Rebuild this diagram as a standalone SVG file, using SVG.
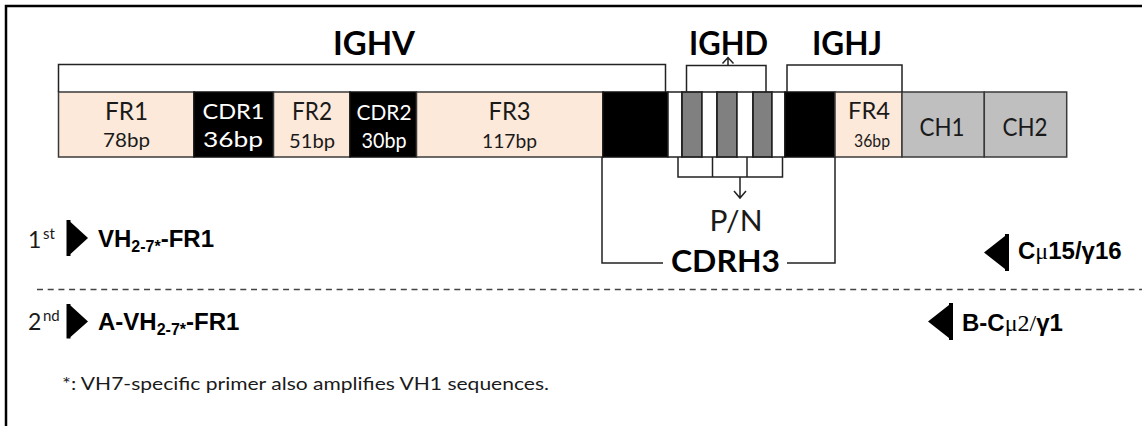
<svg xmlns="http://www.w3.org/2000/svg" width="1142" height="426" viewBox="0 0 1142 426">
<style>
.fr{fill:#FDE9D9;stroke:#3a3a3a;stroke-width:1.5}
.cdr{fill:#000;stroke:#111;stroke-width:1.5}
.wh{fill:#fff;stroke:#222;stroke-width:1.5}
.gr{fill:#808080;stroke:#222;stroke-width:1.8}
.ch{fill:#BFBFBF;stroke:#3a3a3a;stroke-width:1.5}
.ln{fill:none;stroke:#222;stroke-width:1.5}
.lbl{font-family:Lato,"Noto Sans",sans-serif;text-anchor:middle;fill:#1a1a1a}
.wl{font-family:Lato,"Noto Sans",sans-serif;text-anchor:middle;fill:#fff}
.big{font-family:Lato,"Noto Sans",sans-serif;font-weight:bold;text-anchor:middle;fill:#000}
.pr{font-family:"Liberation Sans",Arial,sans-serif;font-weight:bold;fill:#000}
.ord{font-family:Lato,"Noto Sans",sans-serif;fill:#1a1a1a}
.sym{font-family:"Liberation Serif","Times New Roman",serif}
.tri{fill:#000}
</style>
<rect x="0" y="0" width="1142" height="426" fill="#fff"/>
<path d="M6,426 V6 H1142" fill="none" stroke="#000" stroke-width="2.5"/>

<g id="headers">
<text class="big" x="374" y="55" font-size="33" textLength="82" lengthAdjust="spacingAndGlyphs">IGHV</text>
<text class="big" x="728.5" y="55" font-size="33" textLength="79" lengthAdjust="spacingAndGlyphs">IGHD</text>
<text class="big" x="847" y="55" font-size="33" textLength="70" lengthAdjust="spacingAndGlyphs">IGHJ</text>
</g>

<g id="FR1"><rect class="fr" x="58.5" y="92" width="135.5" height="65"/>
<text class="lbl" x="126.5" y="120" font-size="25" textLength="43" lengthAdjust="spacingAndGlyphs">FR1</text>
<text class="lbl" x="126.5" y="147" font-size="19" textLength="47" lengthAdjust="spacingAndGlyphs">78bp</text></g>
<g id="CDR1"><rect class="cdr" x="194" y="92" width="79.5" height="65"/>
<text class="wl" x="233.5" y="119" font-size="22" textLength="62" lengthAdjust="spacingAndGlyphs">CDR1</text>
<text class="wl" x="233" y="147" font-size="22" textLength="60" lengthAdjust="spacingAndGlyphs">36bp</text></g>
<g id="FR2"><rect class="fr" x="273.5" y="92" width="76.5" height="65"/>
<text class="lbl" x="312" y="120" font-size="25" textLength="40" lengthAdjust="spacingAndGlyphs">FR2</text>
<text class="lbl" x="312" y="148" font-size="19" textLength="46" lengthAdjust="spacingAndGlyphs">51bp</text></g>
<g id="CDR2"><rect class="cdr" x="350" y="92" width="66.5" height="65"/>
<text class="wl" x="384" y="120" font-size="22" textLength="55" lengthAdjust="spacingAndGlyphs">CDR2</text>
<text class="wl" x="384" y="148" font-size="21" textLength="45" lengthAdjust="spacingAndGlyphs">30bp</text></g>
<g id="FR3"><rect class="fr" x="416.5" y="92" width="186.5" height="65"/>
<text class="lbl" x="509.5" y="120" font-size="25" textLength="42" lengthAdjust="spacingAndGlyphs">FR3</text>
<text class="lbl" x="509.5" y="148" font-size="19" textLength="55" lengthAdjust="spacingAndGlyphs">117bp</text></g>
<g id="V-end"><rect class="cdr" x="603" y="92" width="65" height="65"/></g>
<g id="N1"><rect class="wh" x="668" y="92" width="14" height="65"/></g>
<g id="D1"><rect class="gr" x="682" y="92" width="20" height="65"/></g>
<g id="N2"><rect class="wh" x="702" y="92" width="15" height="65"/></g>
<g id="D2"><rect class="gr" x="717" y="92" width="20" height="65"/></g>
<g id="N3"><rect class="wh" x="737" y="92" width="16" height="65"/></g>
<g id="D3"><rect class="gr" x="753" y="92" width="19" height="65"/></g>
<g id="N4"><rect class="wh" x="772" y="92" width="13" height="65"/></g>
<g id="J-start"><rect class="cdr" x="785" y="92" width="50" height="65"/></g>
<g id="FR4"><rect class="fr" x="835" y="92" width="67" height="65"/>
<text class="lbl" x="869" y="119" font-size="24" textLength="42" lengthAdjust="spacingAndGlyphs">FR4</text>
<text class="lbl" x="872" y="147" font-size="17" textLength="36" lengthAdjust="spacingAndGlyphs">36bp</text></g>
<g id="CH1"><rect class="ch" x="902" y="92" width="82.3" height="65"/>
<text class="lbl" x="942" y="136" font-size="25" textLength="45" lengthAdjust="spacingAndGlyphs">CH1</text></g>
<g id="CH2"><rect class="ch" x="984.3" y="92" width="82.4" height="65"/>
<text class="lbl" x="1025" y="136" font-size="25" textLength="45" lengthAdjust="spacingAndGlyphs">CH2</text></g>

<g id="connectors" class="ln">
<path d="M58.5,92 V64.5 H665.5 V92"/>
<path d="M686.5,92 V65.5 H766 V92"/>
<path d="M728,65.5 V57.5 M722.5,63.5 L728,57.5 L733.5,63.5"/>
<path d="M787,92 V65 H902 V92"/>
<path d="M678,157 V177 H782.5 V157 M712.5,157 V177 M747,157 V177"/>
<path d="M740,177 V198 M734,191 L740,198 L746,191"/>
<path d="M602,157 V263 H663 M787,263 H835 V157"/>
</g>

<g id="PN"><text class="lbl" x="736" y="231" font-size="28" textLength="53" lengthAdjust="spacingAndGlyphs">P/N</text></g>
<g id="CDRH3"><text class="big" x="725.5" y="272" font-size="31" textLength="109" lengthAdjust="spacingAndGlyphs">CDRH3</text></g>

<g id="primer-1st-fwd">
<text class="ord" x="28" y="248" font-size="23">1<tspan x="43" y="239" font-size="15">st</tspan></text>
<path class="tri" d="M66.5,220 H70.5 V222 L88,238 L70.5,254 V256 H66.5 Z"/>
<text class="pr" x="98" y="247" font-size="24">VH<tspan font-size="16" dy="5">2-7*</tspan><tspan dy="-5">-FR1</tspan></text>
</g>
<g id="primer-1st-rev">
<path class="tri" d="M984,252.5 L1005,236 V234 H1009 V271 H1005 V269 Z"/>
<text class="pr" x="1018" y="259" font-size="24">C<tspan class="sym" font-weight="normal">μ</tspan>15/γ16</text>
</g>

<line x1="37" y1="289.5" x2="1142" y2="289.5" stroke="#444" stroke-width="1.5" stroke-dasharray="6 4.7"/>

<g id="primer-2nd-fwd">
<text class="ord" x="28" y="330" font-size="23">2<tspan x="43" y="321" font-size="15">nd</tspan></text>
<path class="tri" d="M66.5,304 H70.5 V305.5 L88,321.5 L70.5,337 V338.5 H66.5 Z"/>
<text class="pr" x="98" y="330" font-size="24">A-VH<tspan font-size="16" dy="5">2-7*</tspan><tspan dy="-5">-FR1</tspan></text>
</g>
<g id="primer-2nd-rev">
<path class="tri" d="M928,321.5 L949,305 V303 H953 V340 H949 V338 Z"/>
<text class="pr" x="962" y="331" font-size="24">B-C<tspan class="sym" font-weight="normal">μ2/</tspan>γ1</text>
</g>

<g id="footnote"><text class="ord" x="62" y="390" font-size="17" textLength="487" lengthAdjust="spacingAndGlyphs">*: VH7-specific primer also amplifies VH1 sequences.</text></g>
</svg>
